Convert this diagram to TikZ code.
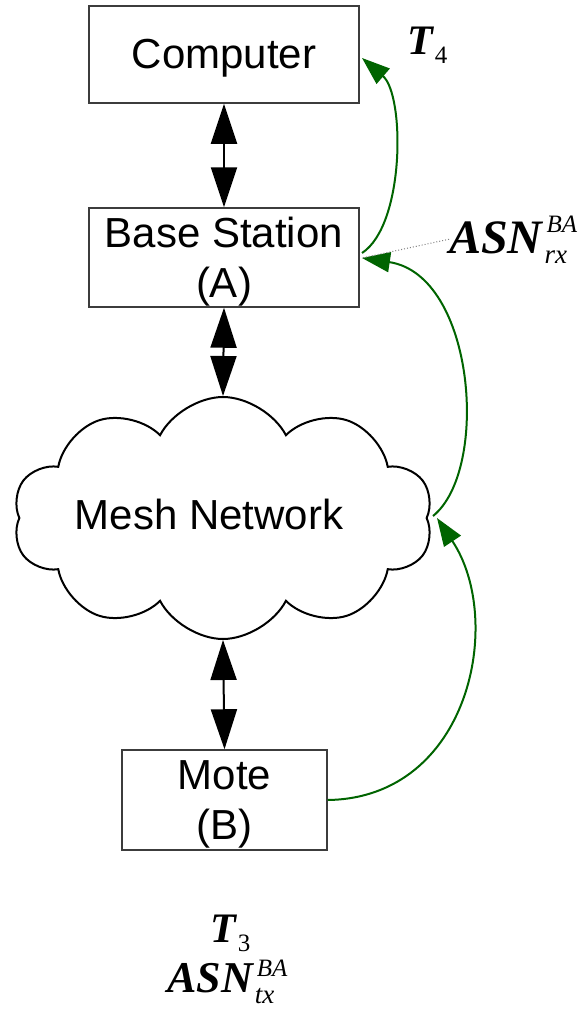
\documentclass[tikz,border=0pt]{standalone}
\usepackage{fontspec}
\setmainfont{Liberation Sans}
\newfontfamily\lblfont{Liberation Serif}
\usetikzlibrary{shapes.symbols,arrows.meta}
\definecolor{linkgreen}{RGB}{0,100,0}
\definecolor{boxgray}{RGB}{60,60,60}
\tikzset{
  unitbox/.style={draw=boxgray, line width=1.5pt, fill=white, inner sep=0pt},
  boxtext/.style={align=center, inner sep=0pt, yshift=-4pt, font=\fontsize{42}{50}\selectfont},
  duplex/.style={line width=2pt, {Triangle[length=40pt,width=26pt]}-{Triangle[length=40pt,width=26pt]}},
  hop/.style={linkgreen, line width=2pt, -{Triangle[length=28pt,width=20pt]}},
  tag/.style={font=\lblfont, inner sep=0pt, anchor=base west},
}
% #1 main size, #2 main text, #3 superscript, #4 raise, #5 subscript, #6 lower
\newcommand{\stamp}[6]{%
  {\fontsize{#1}{#1}\selectfont\bfseries\itshape #2}\kern2pt%
  \rlap{\kern2pt\raisebox{#4}{\fontsize{25}{25}\selectfont\itshape #3}}%
  \raisebox{-#6}{\fontsize{27}{27}\selectfont\itshape #5}}
\newcommand{\tstamp}[1]{%
  {\fontsize{42}{42}\selectfont\bfseries\itshape T}\kern2pt%
  \raisebox{-9pt}{\fontsize{25}{25}\selectfont #1}}
\begin{document}
\begin{tikzpicture}[x=1pt,y=-1pt]
  \useasboundingbox (0,0) rectangle (578,1014);

  % boxes
  \node[unitbox, minimum width=270pt, minimum height=97pt,
        label={[boxtext]center:Computer}] (comp) at (224,54.5) {};
  \node[unitbox, minimum width=270pt, minimum height=99pt,
        label={[boxtext]center:Base Station\\(A)}] (base) at (224,257.5) {};
  \node[unitbox, minimum width=205pt, minimum height=100pt,
        label={[boxtext]center:Mote\\(B)}] (mote) at (224.5,800) {};

  % mesh cloud
  \node[cloud, draw, line width=2pt, cloud puffs=10, cloud puff arc=125, aspect=1.75,
        minimum width=420pt, minimum height=242pt, inner sep=0pt] (mesh) at (223,518) {};
  \node[font=\fontsize{42}{50}\selectfont, inner sep=0pt] (meshtext) at (209,514) {Mesh Network};

  % wired / radio links
  \draw[duplex] (comp.south) -- (base.north);
  \draw[duplex] (base.south) -- (mesh.north);
  \draw[duplex] (mesh.south) -- (mote.north);

  % timestamp path
  \coordinate (meshin) at (437,518);
  \coordinate (meshout) at (433,516);
  \coordinate (basein) at (362,258);
  \coordinate (baseout) at (362,253);
  \coordinate (compin) at (362,58);
  \draw[hop] (mote.east) .. controls (470,798) and (505,620) .. (meshin);
  \draw[hop] (meshout) .. controls (490,470) and (475,275) .. (basein);
  \draw[hop] (baseout) .. controls (405,225) and (405,95) .. (compin);

  % labels
  \node[tag] (t4) at (407,55) {\tstamp{4}};
  \node[tag] (asnrx) at (449,253) {\stamp{48}{ASN}{BA}{21pt}{rx}{10pt}};
  \draw[gray, dotted, line width=1pt] (asnrx.west) -- (basein);
  \node[tag] (t3) at (210,942) {\tstamp{3}};
  \node[tag] (asntx) at (167,992) {\stamp{44}{ASN}{BA}{16pt}{tx}{11pt}};
\end{tikzpicture}
\end{document}
